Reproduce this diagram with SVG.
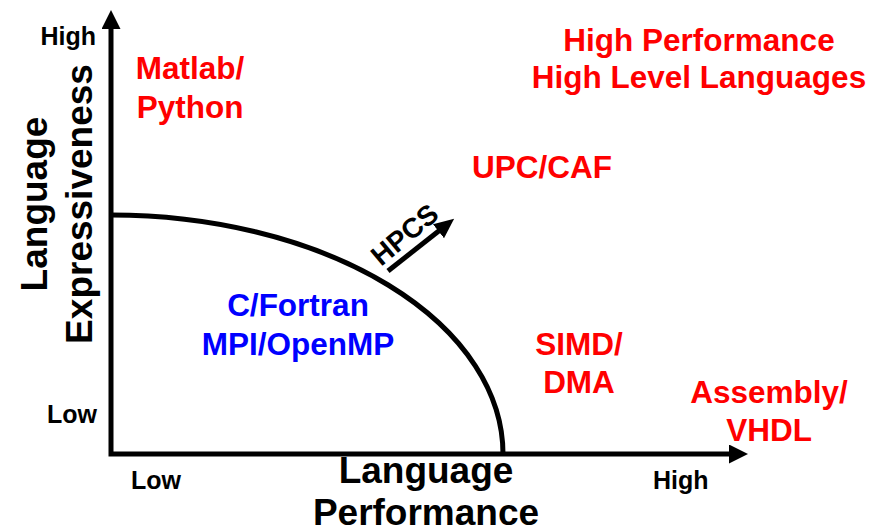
<svg xmlns="http://www.w3.org/2000/svg" width="874" height="532" viewBox="0 0 874 532">
<style>
text{font-family:"Liberation Sans",Arial,sans-serif;font-weight:bold}
.red{fill:#ff0000;font-size:31.5px;text-anchor:middle}
.blue{fill:#0000ff;font-size:31.5px;text-anchor:middle}
.ax{fill:#000;font-size:25px}
.title{fill:#000;font-size:37px;text-anchor:middle}
.line{fill:none;stroke:#000;stroke-width:5}
</style>
<defs>
<marker id="ah" markerUnits="userSpaceOnUse" markerWidth="20" markerHeight="20" refX="2" refY="9.5" orient="auto-start-reverse">
<path d="M0,0 L19,9.5 L0,19 z" fill="#000"/>
</marker>
<marker id="ah2" markerUnits="userSpaceOnUse" markerWidth="22" markerHeight="22" refX="2" refY="9" orient="auto">
<path d="M0,0 L20,9 L0,18 z" fill="#000"/>
</marker>
</defs>
<g id="connectors">
<path id="axes" class="line" d="M111,27 L111,454 L731,454" marker-start="url(#ah)" marker-end="url(#ah)" stroke-linejoin="miter"/>
<path id="frontier" class="line" d="M111,215 A392,239 0 0 1 503,454"/>
<line id="hpcs-arrow" x1="388" y1="271" x2="440" y2="230" stroke="#000" stroke-width="5" marker-end="url(#ah2)"/>
</g>
<g id="y-axis-labels">
<text class="ax" x="96" y="45" text-anchor="end">High</text>
<text class="ax" x="97" y="423" text-anchor="end">Low</text>
</g>
<g id="x-axis-labels">
<text class="ax" x="131" y="489">Low</text>
<text class="ax" x="653" y="489">High</text>
</g>
<g id="y-title">
<text class="title" transform="translate(47,204) rotate(-90)">Language</text>
<text class="title" transform="translate(92,204) rotate(-90)">Expressiveness</text>
</g>
<g id="x-title">
<text class="title" x="426" y="483">Language</text>
<text class="title" x="426" y="525">Performance</text>
</g>
<g id="hpcs">
<text class="ax" style="font-size:28px" transform="translate(381,267) rotate(-40)">HPCS</text>
</g>
<g id="matlab">
<text class="red" x="190" y="79">Matlab/</text>
<text class="red" x="190" y="118">Python</text>
</g>
<g id="hphll">
<text class="red" x="699" y="51">High Performance</text>
<text class="red" x="699" y="88">High Level Languages</text>
</g>
<g id="upc">
<text class="red" x="542" y="178">UPC/CAF</text>
</g>
<g id="cfortran">
<text class="blue" x="298" y="316">C/Fortran</text>
<text class="blue" x="298" y="355">MPI/OpenMP</text>
</g>
<g id="simd">
<text class="red" x="579" y="355">SIMD/</text>
<text class="red" x="579" y="393">DMA</text>
</g>
<g id="assembly">
<text class="red" x="769" y="403">Assembly/</text>
<text class="red" x="769" y="441">VHDL</text>
</g>
</svg>
